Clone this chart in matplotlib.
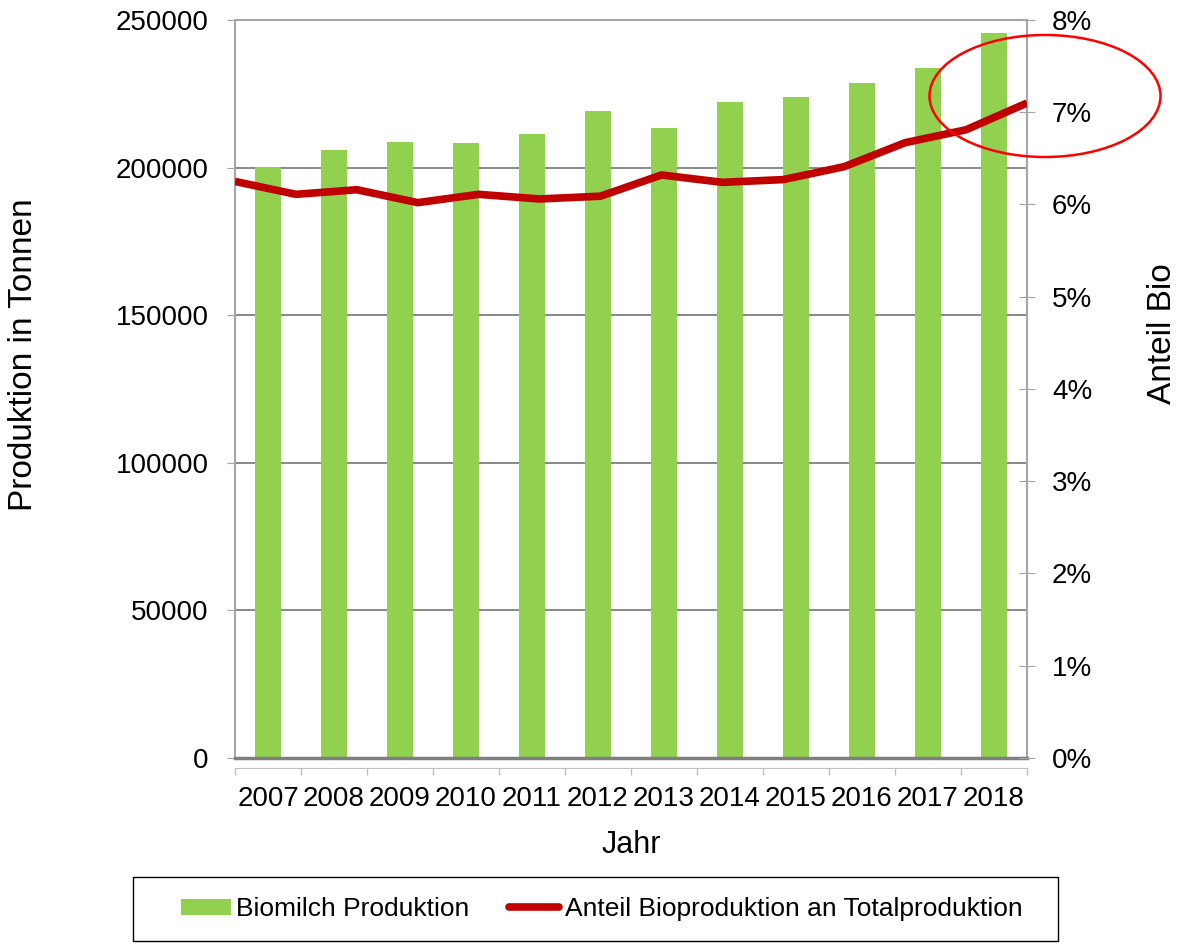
import matplotlib
matplotlib.use("Agg")
import matplotlib.pyplot as plt
from matplotlib.patches import Ellipse, Rectangle
from matplotlib.ticker import PercentFormatter, FixedLocator

# Daten
jahre = ['2007', '2008', '2009', '2010', '2011', '2012',
         '2013', '2014', '2015', '2016', '2017', '2018']
biomilch = [200200, 205900, 208500, 208300, 211400, 219300,
            213300, 222200, 223800, 228700, 233700, 245500]
# Anteil Bio in % (Linie, 14 Punkte ueber die ganze Breite)
anteil = [6.25, 6.11, 6.16, 6.02, 6.11, 6.06, 6.09,
          6.32, 6.24, 6.27, 6.41, 6.67, 6.81, 7.10]

plt.rcParams['font.family'] = ['Liberation Sans', 'DejaVu Sans']

fig = plt.figure(figsize=(11.78, 9.43), dpi=100)
ax = fig.add_axes([0.1995, 0.1962, 0.6723, 0.7826])

x = range(len(jahre))
bars = ax.bar(x, biomilch, width=0.4, color='#92D050', zorder=2,
              label='Biomilch Produktion')
ax.set_xlim(-0.5, len(jahre) - 0.5)
ax.set_ylim(0, 250000)
ax.set_yticks(range(0, 250001, 50000))
ax.yaxis.grid(True, color='#7F7F7F', lw=1.3)
ax.set_axisbelow(True)

# x-Achse: Striche zwischen den Kategorien, Beschriftung in der Mitte
ax.xaxis.set_major_locator(FixedLocator([i - 0.5 for i in range(len(jahre) + 1)]))
ax.xaxis.set_minor_locator(FixedLocator(list(x)))
ax.set_xticklabels([], minor=False)
ax.set_xticklabels(jahre, minor=True)
ax.tick_params(axis='x', which='major', direction='out', length=5,
               color='#BFBFBF', width=1)
ax.tick_params(axis='x', which='minor', length=0, pad=13, labelsize=20)
ax.tick_params(axis='y', direction='out', length=6, color='#A6A6A6',
               pad=13, labelsize=20)

ax.spines['bottom'].set_position(('outward', 7))
ax.spines['bottom'].set_color('#BFBFBF')
for s in ['left', 'top', 'right']:
    ax.spines[s].set_color('#A6A6A6')
    ax.spines[s].set_linewidth(1.5)
ax.axhline(0, color='#7F7F7F', lw=2.5, zorder=3, clip_on=False)

ax.set_ylabel('Produktion in Tonnen', fontsize=24)
ax.yaxis.set_label_coords(-0.247, 0.546)
ax.set_xlabel('Jahr', fontsize=22)
ax.xaxis.set_label_coords(0.501, -0.098)

# rechte Achse: Anteil
ax2 = ax.twinx()
ax2.set_ylim(0, 8)
ax2.set_yticks(range(0, 9))
ax2.yaxis.set_major_formatter(PercentFormatter(decimals=0))
ax2.tick_params(axis='y', direction='inout', length=12, color='#A6A6A6',
                pad=12, labelsize=20)
for s in ax2.spines.values():
    s.set_visible(False)
ax2.set_ylabel('Anteil Bio', fontsize=24)
ax2.yaxis.set_label_coords(1.152, 0.575)

ax3 = ax2.twiny()
ax3.set_xlim(0, len(anteil) - 1)
ax3.set_xticks([])
for s in ax3.spines.values():
    s.set_visible(False)
linie, = ax3.plot(range(len(anteil)), anteil, color='#C00000', lw=5.5,
                  solid_capstyle='butt', solid_joinstyle='round',
                  label='Anteil Bioproduktion an Totalproduktion')

# roter Kreis um die letzten Jahre
fig.patches.append(Ellipse((0.8871, 0.8982), 0.1961, 0.1294,
                           transform=fig.transFigure, fill=False,
                           edgecolor='red', lw=1.8))

# Legende mit eigenem Rahmen
leg = fig.legend(handles=[bars, linie], loc='center',
                 bbox_to_anchor=(0.5106, 0.0361), ncol=2, fontsize=19,
                 frameon=False, columnspacing=1.5, handlelength=1.9,
                 handletextpad=0.2, handleheight=0.55)
leg.legend_handles[1].set_solid_capstyle('round')
fig.patches.append(Rectangle((0.1129, 0.0021), 0.7852, 0.0679,
                             transform=fig.transFigure, fill=False,
                             edgecolor='black', lw=1.0))

fig.savefig('out.png', dpi=100)
